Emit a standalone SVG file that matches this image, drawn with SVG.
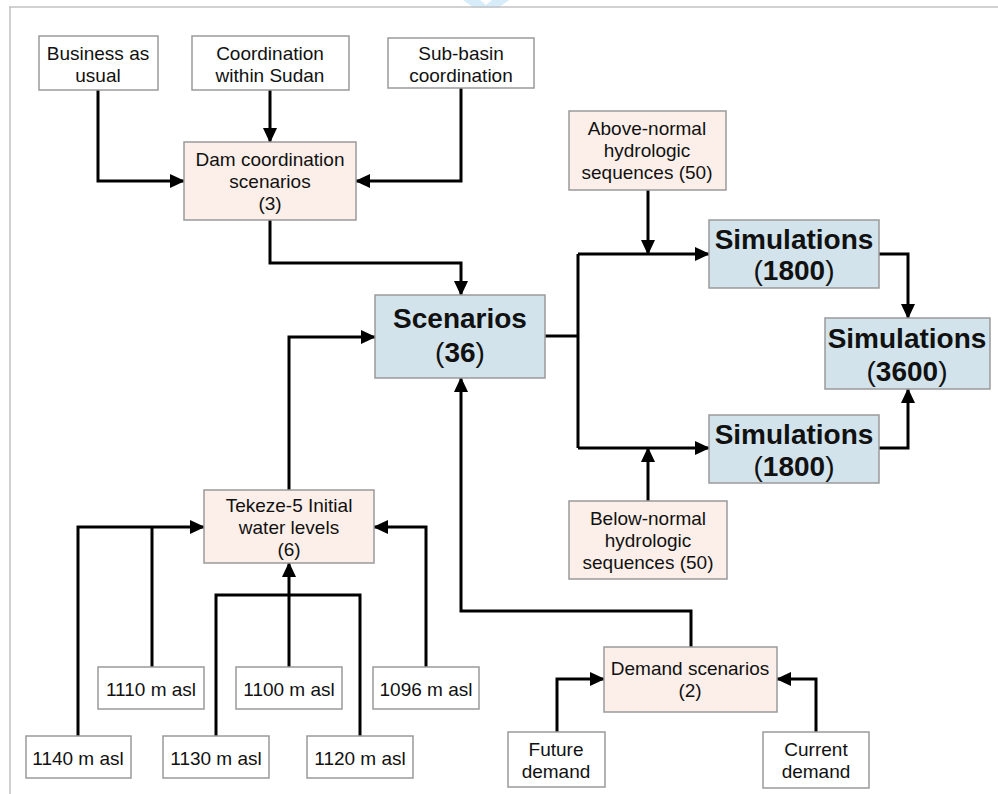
<svg xmlns="http://www.w3.org/2000/svg" width="998" height="794" viewBox="0 0 998 794">
<style>
.box{stroke:#9a9a9a;stroke-width:1.5}
.w{fill:#ffffff}
.p{fill:#fcefe9}
.b{fill:#d2e3eb}
text{font-family:"Liberation Sans",Arial,sans-serif;font-size:19px;fill:#111;text-anchor:middle}
.big{font-size:28px;font-weight:bold}
.thin{font-weight:normal}
.c{fill:none;stroke:#000;stroke-width:3;stroke-linejoin:miter}
</style>
<defs>
<marker id="ah" markerUnits="userSpaceOnUse" markerWidth="15" markerHeight="14" refX="14" refY="7" orient="auto">
<path d="M0,0 L15,7 L0,14 Z" fill="#000"/>
</marker>
</defs>
<rect width="998" height="794" fill="#fff"/>
<path d="M463,0 L480,0 L486,5 L492,0 L509,0 L498,8 L474,8 Z" fill="#d6ecf9"/>
<path d="M9,7 H998 M10,7 V794" fill="none" stroke="#c2c2c2" stroke-width="1.5"/>

<g id="connectors">
<path class="c" d="M98,90 V181 H184" marker-end="url(#ah)"/>
<path class="c" d="M270,90 V142" marker-end="url(#ah)"/>
<path class="c" d="M461,88 V181 H356" marker-end="url(#ah)"/>
<path class="c" d="M270,220 V263 H461 V295" marker-end="url(#ah)"/>
<path class="c" d="M289,490 V337 H375" marker-end="url(#ah)"/>
<path class="c" d="M691,647 V611 H461 V378" marker-end="url(#ah)"/>
<path class="c" d="M545,336 H578 M578,254 V448"/>
<path class="c" d="M578,254 H709" marker-end="url(#ah)"/>
<path class="c" d="M578,448 H709" marker-end="url(#ah)"/>
<path class="c" d="M648,190 V254" marker-end="url(#ah)"/>
<path class="c" d="M648,501 V448" marker-end="url(#ah)"/>
<path class="c" d="M879,254 H908 V318" marker-end="url(#ah)"/>
<path class="c" d="M879,448 H908 V389" marker-end="url(#ah)"/>
<path class="c" d="M78,736 V527 H204" marker-end="url(#ah)"/>
<path class="c" d="M152,667 V527"/>
<path class="c" d="M289,667 V563" marker-end="url(#ah)"/>
<path class="c" d="M216,736 V595 H360 V736"/>
<path class="c" d="M426,667 V527 H374" marker-end="url(#ah)"/>
<path class="c" d="M557,732 V679 H604" marker-end="url(#ah)"/>
<path class="c" d="M816,732 V679 H777" marker-end="url(#ah)"/>
</g>

<g id="business">
<rect class="box w" x="39" y="36" width="119" height="54"/>
<text x="98" y="60">Business as</text><text x="98" y="82">usual</text>
</g>
<g id="coordination-sudan">
<rect class="box w" x="192" y="36" width="157" height="54"/>
<text x="270" y="60">Coordination</text><text x="270" y="82">within Sudan</text>
</g>
<g id="sub-basin">
<rect class="box w" x="388" y="38" width="146" height="50"/>
<text x="461" y="60">Sub-basin</text><text x="461" y="82">coordination</text>
</g>
<g id="dam">
<rect class="box p" x="184" y="142" width="172" height="78"/>
<text x="270" y="166">Dam coordination</text><text x="270" y="188">scenarios</text><text x="270" y="210">(3)</text>
</g>
<g id="above">
<rect class="box p" x="569" y="111" width="157" height="79"/>
<text x="647" y="135">Above-normal</text><text x="647" y="157">hydrologic</text><text x="647" y="179">sequences (50)</text>
</g>
<g id="scenarios">
<rect class="box b" x="375" y="295" width="170" height="83"/>
<text class="big" x="460" y="328">Scenarios</text>
<text class="big" x="460" y="362"><tspan class="thin">(</tspan>36<tspan class="thin">)</tspan></text>
</g>
<g id="sim-top">
<rect class="box b" x="709" y="220" width="170" height="68"/>
<text class="big" x="794" y="249">Simulations</text>
<text class="big" x="794" y="280"><tspan class="thin">(</tspan>1800<tspan class="thin">)</tspan></text>
</g>
<g id="sim-3600">
<rect class="box b" x="825" y="318" width="165" height="71"/>
<text class="big" x="907" y="348">Simulations</text>
<text class="big" x="907" y="381"><tspan class="thin">(</tspan>3600<tspan class="thin">)</tspan></text>
</g>
<g id="sim-bottom">
<rect class="box b" x="709" y="415" width="170" height="68"/>
<text class="big" x="794" y="444">Simulations</text>
<text class="big" x="794" y="476"><tspan class="thin">(</tspan>1800<tspan class="thin">)</tspan></text>
</g>
<g id="below">
<rect class="box p" x="569" y="501" width="158" height="78"/>
<text x="648" y="525">Below-normal</text><text x="648" y="547">hydrologic</text><text x="648" y="569">sequences (50)</text>
</g>
<g id="tekeze">
<rect class="box p" x="204" y="490" width="170" height="73"/>
<text x="289" y="512">Tekeze-5 Initial</text><text x="289" y="534">water levels</text><text x="289" y="556">(6)</text>
</g>
<g id="l1110">
<rect class="box w" x="98" y="667" width="106" height="42"/>
<text x="151" y="696">1110 m asl</text>
</g>
<g id="l1100">
<rect class="box w" x="236" y="667" width="106" height="42"/>
<text x="289" y="696">1100 m asl</text>
</g>
<g id="l1096">
<rect class="box w" x="373" y="667" width="106" height="42"/>
<text x="426" y="696">1096 m asl</text>
</g>
<g id="l1140">
<rect class="box w" x="26" y="736" width="105" height="42"/>
<text x="78" y="765">1140 m asl</text>
</g>
<g id="l1130">
<rect class="box w" x="163" y="736" width="106" height="42"/>
<text x="216" y="765">1130 m asl</text>
</g>
<g id="l1120">
<rect class="box w" x="307" y="736" width="106" height="42"/>
<text x="360" y="765">1120 m asl</text>
</g>
<g id="demand">
<rect class="box p" x="604" y="647" width="173" height="65"/>
<text x="690" y="675">Demand scenarios</text><text x="690" y="697">(2)</text>
</g>
<g id="future">
<rect class="box w" x="508" y="732" width="97" height="55"/>
<text x="556" y="756">Future</text><text x="556" y="778">demand</text>
</g>
<g id="current">
<rect class="box w" x="763" y="732" width="106" height="56"/>
<text x="816" y="756">Current</text><text x="816" y="778">demand</text>
</g>
</svg>
